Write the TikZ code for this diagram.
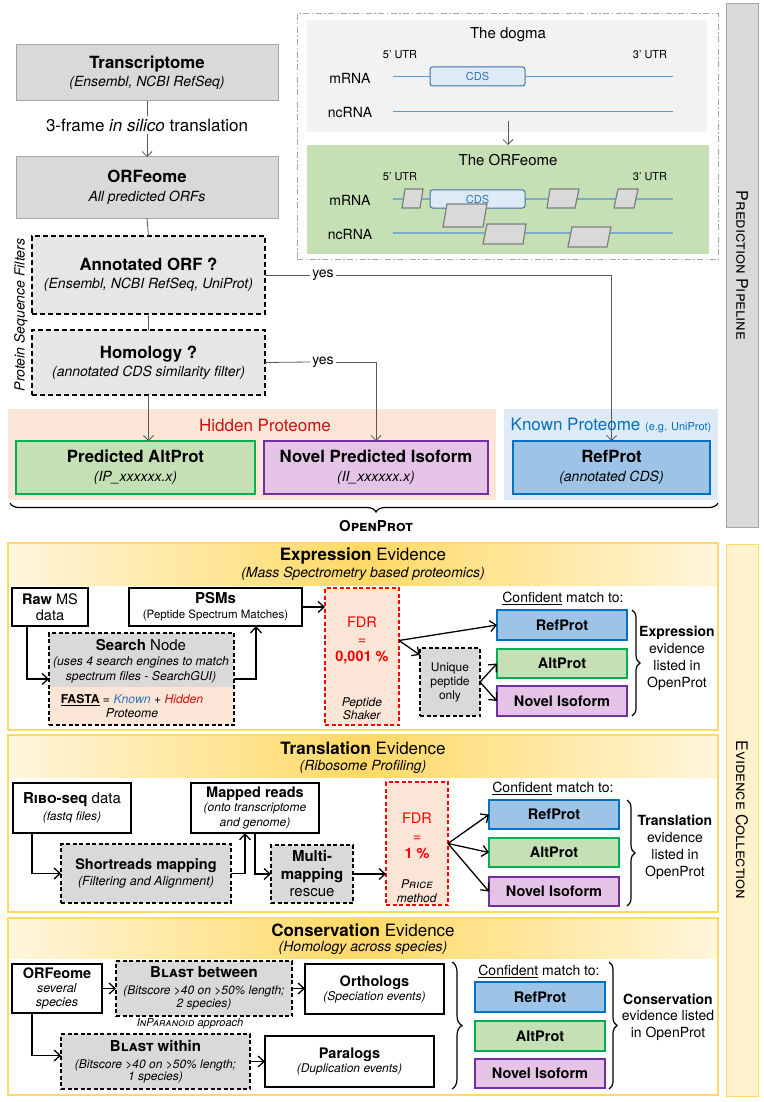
\documentclass[tikz,border=0pt]{standalone}
\usepackage{fontspec}
\setmainfont{TeX Gyre Heros}
\usetikzlibrary{arrows.meta,decorations.pathreplacing}
\definecolor{grayf}{HTML}{D9D9D9}
\definecolor{grayb}{HTML}{A6A6A6}
\definecolor{filterf}{HTML}{E7E6E6}
\definecolor{arrgray}{HTML}{595959}
\definecolor{hidbg}{HTML}{FBE5D6}
\definecolor{knownbg}{HTML}{DEEBF7}
\definecolor{hidred}{HTML}{D01010}
\definecolor{knownblue}{HTML}{0070C0}
\definecolor{altf}{HTML}{C5E0B4}
\definecolor{altb}{HTML}{00B050}
\definecolor{isof}{HTML}{E4C3E6}
\definecolor{isob}{HTML}{7030A0}
\definecolor{reff}{HTML}{9DC3E6}
\definecolor{refb}{HTML}{0070C0}
\definecolor{dogbg}{HTML}{F2F2F2}
\definecolor{orfbgc}{HTML}{C5E0B4}
\definecolor{rnablue}{HTML}{5B9BD5}
\definecolor{rnateal}{HTML}{7FAACB}
\definecolor{cdsf}{HTML}{DEEBF7}
\definecolor{cdsb}{HTML}{41719C}
\definecolor{cdstext}{HTML}{2E75B6}
\definecolor{parf}{HTML}{D9D9D9}
\definecolor{parb}{HTML}{7F7F7F}
\definecolor{gold}{HTML}{FFD966}
\definecolor{goldlight}{HTML}{FFF6DC}
\definecolor{sideyf}{HTML}{FFF2CC}
\definecolor{fdrred}{HTML}{FF0000}
\definecolor{knowntxt}{HTML}{2E75B6}
\newcommand\fs[2]{\fontsize{#1pt}{#2pt}\selectfont}
\newcommand\bx[7]{\node[#6, anchor=north west, minimum width={#4pt-#2pt}, minimum height={#5pt-#3pt}] (#1) at (#2,#3) {#7};}
\tikzset{
 every node/.style={inner sep=0pt, outer sep=0pt, align=center},
 graybox/.style={draw=grayb, fill=grayf, line width=1pt},
 filterbox/.style={draw=black, fill=filterf, dash pattern=on 5pt off 3pt, line width=1.1pt},
 thinarr/.style={draw=arrgray, line width=0.8pt, -{Straight Barb[length=5pt,width=10pt]}},
 thinline/.style={draw=arrgray, line width=0.8pt},
 altbox/.style={draw=altb, fill=altf, line width=1.3pt},
 isobox/.style={draw=isob, fill=isof, line width=1.3pt},
 refbox/.style={draw=refb, fill=reff, line width=1.3pt},
 rnaline/.style={draw=rnablue, line width=0.9pt},
 rnaline2/.style={draw=rnateal, line width=1.6pt},
 cdsbox/.style={draw=cdsb, fill=cdsf, line width=1pt, rounded corners=2.5pt},
 orfp/.style={draw=parb, fill=parf, line width=1.2pt},
 sidegray/.style={draw=grayb, fill=grayf, line width=1pt},
 sideyel/.style={draw=gold, fill=sideyf, line width=1pt},
 secbox/.style={draw=gold, line width=1.4pt},
 evbox/.style={draw=black, fill=white, line width=1.3pt},
 evdash/.style={draw=black, fill=grayf, line width=1.3pt, dash pattern=on 4pt off 2.5pt},
 fdrbox/.style={draw=fdrred, fill=hidbg, line width=1.3pt, dash pattern=on 4pt off 2.5pt},
 evarr/.style={draw=black, line width=1.3pt, -{Straight Barb[length=6pt,width=11pt]}},
 curly/.style={decorate, decoration={brace, amplitude=#1}, line width=1.2pt},
}
\begin{document}
\begin{tikzpicture}[x=1pt,y=-1pt]
\useasboundingbox (0,0) rectangle (763,1102);
% ---------------- sidebars
\bx{ppside}{726}{4}{758}{527}{sidegray}{}
\node[rotate=-90, font=\fs{16}{18}] (pptext) at (ppside.center) {\textsc{Prediction Pipeline}};
\bx{ecside}{726}{544}{758}{1096}{sideyel}{}
\node[rotate=-90, font=\fs{16}{18}] (ectext) at (742,820) {\textsc{Evidence Collection}};
% ---------------- dogma panel
\bx{frame}{297}{14}{718}{259}{draw=grayb, line width=1pt, dash pattern=on 6pt off 2.5pt on 1.5pt off 2.5pt}{}
\bx{dogma}{307}{20}{707}{132}{fill=dogbg}{}
\node[font=\fs{15}{18}] (dogt) at (508,35) {The dogma};
\node[font=\fs{11}{13}] (u5a) at (400,55) {5’ UTR};
\node[font=\fs{11}{13}] (u3a) at (650,55) {3’ UTR};
\node[font=\fs{14}{16}] (mr1) at (350,78) {mRNA};
\node[font=\fs{14}{16}] (nc1) at (350,113) {ncRNA};
\coordinate (m1a) at (393,76); \coordinate (m1b) at (673,76);
\coordinate (n1a) at (393,111); \coordinate (n1b) at (673,111);
\draw[rnaline] (m1a) -- (m1b);
\draw[rnaline] (n1a) -- (n1b);
\bx{cds1}{430}{67}{525}{86}{cdsbox, font=\fs{11}{13}, text=cdstext}{CDS}
\coordinate (dstart) at (508,121);
\bx{orfbg}{307}{145}{709}{254}{fill=orfbgc}{}
\draw[thinarr] (dstart) -- (dstart |- orfbg.north);
\node[font=\fs{15}{18}] (orft) at (508,160) {The ORFeome};
\node[font=\fs{11}{13}] (u5b) at (400,177) {5’ UTR};
\node[font=\fs{11}{13}] (u3b) at (650,177) {3’ UTR};
\node[font=\fs{14}{16}] (mr2) at (350,200) {mRNA};
\node[font=\fs{14}{16}] (nc2) at (350,235) {ncRNA};
\coordinate (m2a) at (393,199); \coordinate (m2b) at (673,199);
\coordinate (n2a) at (393,233); \coordinate (n2b) at (673,233);
\draw[rnaline2] (m2a) -- (m2b);
\draw[rnaline2] (n2a) -- (n2b);
\bx{cds2}{430}{190}{525}{208}{cdsbox, font=\fs{11}{13}, text=cdstext}{CDS}
\draw[orfp] (405,189) -- (423,189) -- (420,208) -- (402,208) -- cycle;
\draw[orfp] (447,204) -- (487,204) -- (483,227) -- (443,227) -- cycle;
\draw[orfp] (550,189) -- (579,189) -- (575,208) -- (547,208) -- cycle;
\draw[orfp] (618,189) -- (638,189) -- (634,208) -- (614,208) -- cycle;
\draw[orfp] (487,224) -- (526,224) -- (523,244) -- (483,244) -- cycle;
\draw[orfp] (572,227) -- (611,227) -- (607,247) -- (568,247) -- cycle;
% ---------------- prediction pipeline
\bx{trans}{16}{45}{278}{101}{graybox, font=\fs{14}{18}}{\fs{16.8}{18}\textbf{Transcriptome}\\\textit{(Ensembl, NCBI RefSeq)}}
\node[inner sep=3pt, font=\fs{17}{20}] (tl) at (147,125) {3-frame \textit{in silico} translation};
\bx{orf}{16}{157}{278}{218}{graybox, font=\fs{14}{19}}{\fs{16.8}{19}\textbf{ORFeome}\\\textit{All predicted ORFs}}
\draw[thinline] (trans.south) -- (tl.north);
\draw[thinarr] (tl.south) -- (orf.north);
\bx{annot}{32}{236}{265}{314}{filterbox, font=\fs{14}{18}}{\fs{16.8}{18}\textbf{Annotated ORF ?}\\\textit{(Ensembl, NCBI RefSeq, UniProt)}}
\bx{homol}{32}{330}{265}{395}{filterbox, font=\fs{14}{18}}{\fs{16.8}{18}\textbf{Homology ?}\\\textit{(annotated CDS similarity filter)}}
\draw[thinline] (orf.south) -- (annot.north);
\draw[thinline] (annot.south) -- (homol.north);
\node[rotate=90, font=\fs{14}{16}] (psf) at (21,315) {\textit{Protein Sequence Filters}};
\fill[hidbg] (8,409) rectangle (496,500);
\fill[knownbg] (504,409) rectangle (718,500);
\node[font=\fs{17}{20}, text=hidred] (hidl) at (265,425) {Hidden Proteome};
\node[font=\fs{17}{20}, text=knownblue] (knownl) at (611,425) {Known Proteome \fs{11}{13}(e.g. UniProt)};
\bx{alt}{16}{441}{255}{494}{altbox, font=\fs{14}{19}}{\fs{16.8}{19}\textbf{Predicted AltProt}\\\textit{(IP\_xxxxxx.x)}}
\bx{iso}{264}{441}{488}{494}{isobox, font=\fs{14}{19}}{\fs{16.8}{19}\textbf{Novel Predicted Isoform}\\\textit{(II\_xxxxxx.x)}}
\bx{ref}{513}{441}{710}{494}{refbox, font=\fs{14}{19}}{\fs{16.8}{19}\textbf{RefProt}\\\textit{(annotated CDS)}}
\node[inner sep=2pt, font=\fs{14}{16}] (yes1) at (323,275) {yes};
\node[inner sep=2pt, font=\fs{14}{16}] (yes2) at (323,362) {yes};
\draw[thinline] (annot.east) -- (yes1.west);
\draw[thinarr] (yes1.east) -| (ref.north);
\draw[thinline] (homol.east) -- (yes2.west);
\draw[thinarr] (yes2.east) -| (iso.north);
\draw[thinarr] (homol.south) -- (homol.south |- alt.north);
\draw[curly=9pt, decoration={mirror, aspect=0.517}] (10,503) -- (718,503);
\node[font=\fs{15}{18}] (openprot) at (376,526) {\textbf{\textsc{OpenProt}}};
% ---------------- Expression evidence
\shade[left color=goldlight, right color=goldlight, middle color=gold] (8,543) rectangle (718,585);
\bx{exsec}{8}{543}{718}{730}{secbox}{}
\node[font=\fs{17}{20}] (ext) at (363,556) {\textbf{Expression} Evidence};
\node[font=\fs{14}{16}] (exs) at (363,574) {\textit{(Mass Spectrometry based proteomics)}};
\bx{raw}{12}{588}{88}{626}{evbox, font=\fs{14.5}{16.5}}{\textbf{Raw} MS\\data}
\bx{psm}{129}{588}{302}{626}{evbox, font=\fs{11.5}{15}}{\fs{15}{15}\textbf{PSMs}\\(Peptide Spectrum Matches)}
\fill[grayf] (49,633) rectangle (234,687);
\fill[hidbg] (49,687) rectangle (234,725);
\bx{search}{49}{633}{234}{725}{draw=black, line width=1.3pt, dash pattern=on 4pt off 2.5pt}{}
\node[font=\fs{12.2}{15}] (searcht) at (141,661) {\fs{15}{15}\textbf{Search} Node\\\textit{(uses 4 search engines to match}\\\textit{spectrum files - SearchGUI)}};
\node[font=\fs{12.2}{14}] (fasta) at (132,706) {\underline{\textbf{FASTA}} = \textcolor{knowntxt}{\textit{Known}} + \textcolor{hidred}{\textit{Hidden}}\\\textit{Proteome}};
\bx{fdr}{325}{588}{399}{725}{fdrbox}{}
\node[font=\fs{14.5}{17}, text=fdrred] (fdrt) at (362,640) {FDR\\=\\\textbf{0,001 \%}};
\node[font=\fs{12}{13}] (fdrs) at (362,709) {\textit{Peptide}\\\textit{Shaker}};
\bx{uniq}{420}{648}{480}{716}{evdash, font=\fs{12}{14}}{Unique\\peptide\\only}
\node[font=\fs{14}{16}] (conf1) at (563,598) {\underline{Confident} match to:};
\bx{ref1}{497}{610}{627}{640}{refbox, font=\fs{14.5}{16}}{\textbf{RefProt}}
\bx{alt1}{497}{649}{627}{678}{altbox, font=\fs{14.5}{16}}{\textbf{AltProt}}
\bx{iso1}{497}{686}{627}{716}{isobox, font=\fs{14.5}{16}}{\textbf{Novel Isoform}}
\draw[curly=8pt] (632,610) -- (632,716);
\node[font=\fs{14}{17}] (exr) at (677,658) {\textbf{Expression}\\evidence\\listed in\\OpenProt};
\draw[evarr] ([xshift=15pt]raw.south west) |- (search.west);
\draw[evarr] (search.east) -| ([xshift=-46pt]psm.south east);
\draw[evarr] (psm.east) -- (psm.east -| fdr.west);
\draw[evarr] ([yshift=16pt]fdr.east) -- (ref1.west);
\draw[evarr] ([yshift=16pt]fdr.east) -- ([yshift=-7pt]uniq.north west);
\draw[evarr] (uniq.east) -- (alt1.west);
\draw[evarr] (uniq.east) -- (iso1.west);
% ---------------- Translation evidence
\shade[left color=goldlight, right color=goldlight, middle color=gold] (8,735) rectangle (718,777);
\bx{trsec}{8}{735}{718}{912}{secbox}{}
\node[font=\fs{17}{20}] (trt) at (363,748) {\textbf{Translation} Evidence};
\node[font=\fs{14}{16}] (trs) at (363,767) {\textit{(Ribosome Profiling)}};
\bx{ribo}{13}{783}{131}{833}{evbox, font=\fs{12}{17}}{\fs{15}{17}\textbf{\textsc{Ribo}-seq} data\\\textit{(fastq files)}}
\bx{mapped}{191}{783}{319}{833}{evbox, font=\fs{12}{14.5}}{\fs{14.5}{14.5}\textbf{Mapped reads}\\\textit{(onto transcriptome}\\\textit{and genome)}}
\bx{short}{61}{844}{231}{903}{evdash, font=\fs{12.5}{16}}{\fs{14.5}{16}\textbf{Shortreads mapping}\\\textit{(Filtering and Alignment)}}
\bx{multi}{271}{845}{353}{903}{evdash, font=\fs{15}{17.5}}{\textbf{Multi-}\\\textbf{mapping}\\rescue}
\bx{fdrb}{386}{782}{448}{905}{fdrbox}{}
\node[font=\fs{14.5}{17.5}, text=fdrred] (fdrbt) at (417,836) {FDR\\=\\\textbf{1 \%}};
\node[font=\fs{12}{14}] (fdrbs) at (417,891) {\textit{\textsc{Price}}\\\textit{method}};
\node[font=\fs{14}{16}] (conf2) at (553,788) {\underline{Confident} match to:};
\bx{ref2}{489}{800}{619}{829}{refbox, font=\fs{14.5}{16}}{\textbf{RefProt}}
\bx{alt2}{489}{838}{619}{867}{altbox, font=\fs{14.5}{16}}{\textbf{AltProt}}
\bx{iso2}{489}{877}{619}{906}{isobox, font=\fs{14.5}{16}}{\textbf{Novel Isoform}}
\draw[curly=8pt] (627,800) -- (627,906);
\node[font=\fs{14}{17}] (trr) at (675,847) {\textbf{Translation}\\evidence\\listed in\\OpenProt};
\draw[evarr] ([xshift=19pt]ribo.south west) |- (short.west);
\draw[evarr] (short.east) -| ([xshift=54pt]mapped.south west);
\draw[evarr] ([xshift=64pt]mapped.south west) |- (multi.west);
\draw[evarr] (multi.east) -- (multi.east -| fdrb.west);
\draw[evarr] (fdrb.east) -- (ref2.west);
\draw[evarr] (fdrb.east) -- (alt2.west);
\draw[evarr] (fdrb.east) -- (iso2.west);
% ---------------- Conservation evidence
\shade[left color=goldlight, right color=goldlight, middle color=gold] (8,918) rectangle (718,958);
\bx{cosec}{8}{918}{718}{1095}{secbox}{}
\node[font=\fs{17}{20}] (cot) at (363,930) {\textbf{Conservation} Evidence};
\node[font=\fs{14}{16}] (cos) at (363,948) {\textit{(Homology across species)}};
\bx{orf3}{12}{964}{102}{1013}{evbox, font=\fs{12.5}{14}}{\fs{14.5}{14}\textbf{ORFeome}\\\textit{several}\\\textit{species}}
\bx{blb}{116}{961}{292}{1016}{evdash, font=\fs{12}{12.5}}{\fs{15}{15}\textbf{\textsc{Blast} between}\\[4.5pt]\textit{(Bitscore >40 on >50\% length;}\\\textit{2 species)}}
\node[font=\fs{11}{13}] (inpar) at (190,1024) {\textit{\textsc{InParanoid} approach}};
\bx{orth}{305}{964}{444}{1014}{evbox, font=\fs{12}{14}}{\fs{14.5}{14}\textbf{Orthologs}\\\textit{(Speciation events)}}
\bx{blw}{61}{1034}{250}{1089}{evdash, font=\fs{12}{12.5}}{\fs{15}{15}\textbf{\textsc{Blast} within}\\[4.5pt]\textit{(Bitscore >40 on >50\% length;}\\\textit{1 species)}}
\bx{para}{265}{1036}{434}{1087}{evbox, font=\fs{12}{14}}{\fs{14.5}{14}\textbf{Paralogs}\\\textit{(Duplication events)}}
\draw[evarr] (orf3.east) -- (orf3.east -| blb.west);
\draw[evarr] (blb.east) -- (blb.east -| orth.west);
\draw[evarr] ([xshift=20pt]orf3.south west) |- ([yshift=6pt]blw.west);
\draw[evarr] (blw.east) -- (blw.east -| para.west);
\draw[curly=10pt] (452,962) -- (452,1089);
\node[font=\fs{14}{16}] (conf3) at (539,971) {\underline{Confident} match to:};
\bx{ref3}{475}{982}{605}{1012}{refbox, font=\fs{14.5}{16}}{\textbf{RefProt}}
\bx{alt3}{475}{1021}{605}{1051}{altbox, font=\fs{14.5}{16}}{\textbf{AltProt}}
\bx{iso3}{475}{1059}{605}{1088}{isobox, font=\fs{14.5}{16}}{\textbf{Novel Isoform}}
\draw[curly=8pt] (609,962) -- (609,1089);
\node[font=\fs{14}{16.5}] (cor) at (668,1017) {\textbf{Conservation}\\evidence listed\\in OpenProt};
\end{tikzpicture}
\end{document}
